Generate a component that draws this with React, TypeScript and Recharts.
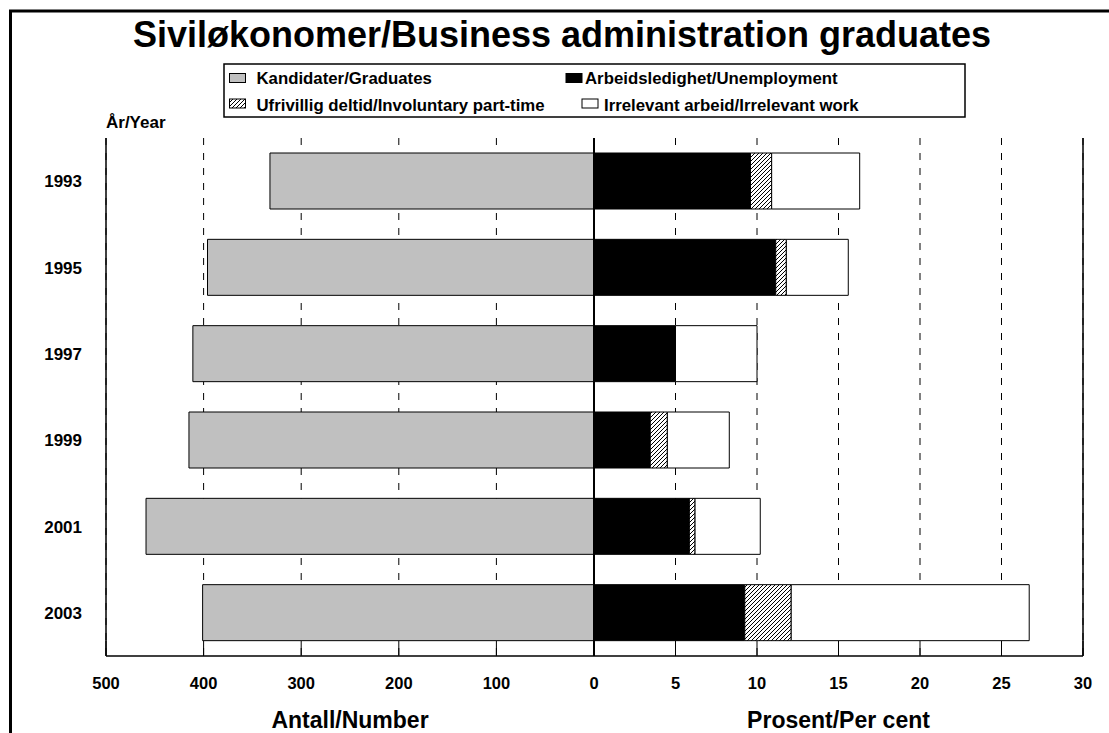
import { BarChart, Bar, XAxis, YAxis, CartesianGrid, ReferenceLine, Label } from "recharts"

const years = ["1993", "1995", "1997", "1999", "2001", "2003"]
const graduates = [332, 396, 411, 415, 459, 401]
const unemployment = [9.6, 11.15, 5.0, 3.45, 5.85, 9.25]
const partTime = [1.3, 0.65, 0, 1.05, 0.35, 2.85]
const irrelevant = [5.4, 3.8, 5.0, 3.8, 4.0, 14.6]

const numberTicks = [0, 100, 200, 300, 400, 500]
const percentTicks = [0, 5, 10, 15, 20, 25, 30]

const legendLabels = [
  "Kandidater/Graduates",
  "Arbeidsledighet/Unemployment",
  "Ufrivillig deltid/Involuntary part-time",
  "Irrelevant arbeid/Irrelevant work",
]

const FONT = '"Liberation Sans", Arial, Helvetica, sans-serif'
const GRAY = "#c0c0c0"
const PLOT_TOP = 138
const PLOT_BOTTOM = 656
const CHART_H = 733

const data = years.map((year, i) => ({
  year,
  graduates: graduates[i],
  unemployment: unemployment[i],
  partTime: partTime[i],
  irrelevant: irrelevant[i],
}))

// bottom axis tick: short solid tick pointing into the plot + bold label
function AxisTick(props: any) {
  const { x, y, payload, hideZero } = props
  return (
    <g>
      <line x1={x} x2={x} y1={PLOT_BOTTOM} y2={PLOT_BOTTOM - 15} stroke="#000" strokeWidth={1} />
      {!(hideZero && payload.value === 0) && (
        <text x={x} y={y} dy="0.71em" textAnchor="middle" fill="#000"
          fontSize={16.5} fontWeight="bold" fontFamily={FONT}>
          {payload.value}
        </text>
      )}
    </g>
  )
}

function Hatch({ id }: { id: string }) {
  return (
    <defs>
      <pattern id={id} patternUnits="userSpaceOnUse" width={4} height={4}>
        <rect width={4} height={4} fill="#fff" />
        <path d="M-1,1 l2,-2 M0,4 l4,-4 M3,5 l2,-2" stroke="#000" strokeWidth={1} />
      </pattern>
    </defs>
  )
}

const axisTitle = { fill: "#000", fontSize: 23, fontWeight: "bold", fontFamily: FONT }

export default function App() {
  const legendSymbols = [
    { x: 229.5, y: 73.5, fill: GRAY, tx: 256.5, ty: 83.5 },
    { x: 566, y: 73.5, fill: "#000", tx: 585, ty: 83.5 },
    { x: 229.5, y: 99, fill: "url(#hatchLegend)", tx: 256.5, ty: 111 },
    { x: 582, y: 99, fill: "#fff", tx: 604, ty: 111 },
  ]

  return (
    <div style={{ position: "absolute", left: 0, top: 0, width: 1109, height: 733, background: "#fff", overflow: "hidden" }}>
      <svg width={1109} height={733} style={{ position: "absolute", left: 0, top: 0 }}>
        <Hatch id="hatchLegend" />
        <path d="M10.5 733 V11 H1109" fill="none" stroke="#000" strokeWidth={3} />
        <text x={562} y={46.5} textAnchor="middle" fontSize={36} fontWeight="bold" fontFamily={FONT} fill="#000">
          Siviløkonomer/Business administration graduates
        </text>
        <rect x={224} y={64} width={741} height={53} fill="#fff" stroke="#000" strokeWidth={1.5} />
        {legendSymbols.map((s, i) => (
          <g key={legendLabels[i]}>
            <rect x={s.x} y={s.y} width={16} height={9} fill={s.fill} stroke="#000" strokeWidth={1} />
            <text x={s.tx} y={s.ty} fontSize={16.8} fontWeight="bold" fontFamily={FONT} fill="#000">
              {legendLabels[i]}
            </text>
          </g>
        ))}
        <text x={106} y={127.5} fontSize={17} fontWeight="bold" fontFamily={FONT} fill="#000">
          År/Year
        </text>
      </svg>

      {/* left half: number of graduates */}
      <div style={{ position: "absolute", left: 0, top: 0 }}>
        <BarChart width={600} height={CHART_H} data={data} layout="vertical"
          margin={{ top: PLOT_TOP, right: 6, bottom: 0, left: 0 }}>
          <CartesianGrid horizontal={false} stroke="#000" strokeDasharray="7 8" />
          <XAxis type="number" domain={[0, 500]} ticks={numberTicks} reversed height={77}
            axisLine={{ stroke: "#000", strokeWidth: 1.5 }} tickLine={false} tickSize={6} tickMargin={15}
            tick={(p: any) => <AxisTick {...p} hideZero />}>
            <Label value="Antall/Number" position="insideBottom" offset={5} {...axisTitle} />
          </XAxis>
          <XAxis xAxisId="top" orientation="top" type="number" domain={[0, 500]} reversed height={0}
            tick={false} tickLine={false} axisLine={{ stroke: "#000", strokeWidth: 1.5 }} />
          <YAxis type="category" dataKey="year" width={106}
            axisLine={{ stroke: "#000", strokeWidth: 1.5 }} tickLine={false} tickSize={6} tickMargin={18}
            tick={{ fill: "#000", fontSize: 17, fontWeight: "bold", fontFamily: FONT }} />
          <Bar dataKey="graduates" fill={GRAY} stroke="#000" strokeWidth={1} barSize={56} isAnimationActive={false} />
        </BarChart>
      </div>

      {/* right half: per cent */}
      <div style={{ position: "absolute", left: 588, top: 0 }}>
        <BarChart width={521} height={CHART_H} data={data} layout="vertical"
          margin={{ top: PLOT_TOP, right: 0, bottom: 0, left: 6 }}>
          <Hatch id="hatchBar" />
          <CartesianGrid horizontal={false} stroke="#000" strokeDasharray="7 8" />
          <XAxis type="number" domain={[0, 30]} ticks={percentTicks} height={77}
            axisLine={{ stroke: "#000", strokeWidth: 1.5 }} tickLine={false} tickSize={6} tickMargin={15}
            tick={(p: any) => <AxisTick {...p} />}>
            <Label value="Prosent/Per cent" position="insideBottom" offset={5} {...axisTitle} />
          </XAxis>
          <XAxis xAxisId="top" orientation="top" type="number" domain={[0, 30]} height={0}
            tick={false} tickLine={false} axisLine={{ stroke: "#000", strokeWidth: 1.5 }} />
          <YAxis type="category" dataKey="year" orientation="right" width={26}
            axisLine={{ stroke: "#000", strokeWidth: 1.5 }} tickLine={false} tick={false} />
          <Bar dataKey="unemployment" stackId="p" fill="#000" stroke="#000" strokeWidth={1} barSize={56} isAnimationActive={false} />
          <Bar dataKey="partTime" stackId="p" fill="url(#hatchBar)" stroke="#000" strokeWidth={1} barSize={56} isAnimationActive={false} />
          <Bar dataKey="irrelevant" stackId="p" fill="#fff" stroke="#000" strokeWidth={1} barSize={56} isAnimationActive={false} />
          <ReferenceLine x={0} stroke="#000" strokeWidth={2} />
        </BarChart>
      </div>
    </div>
  )
}
